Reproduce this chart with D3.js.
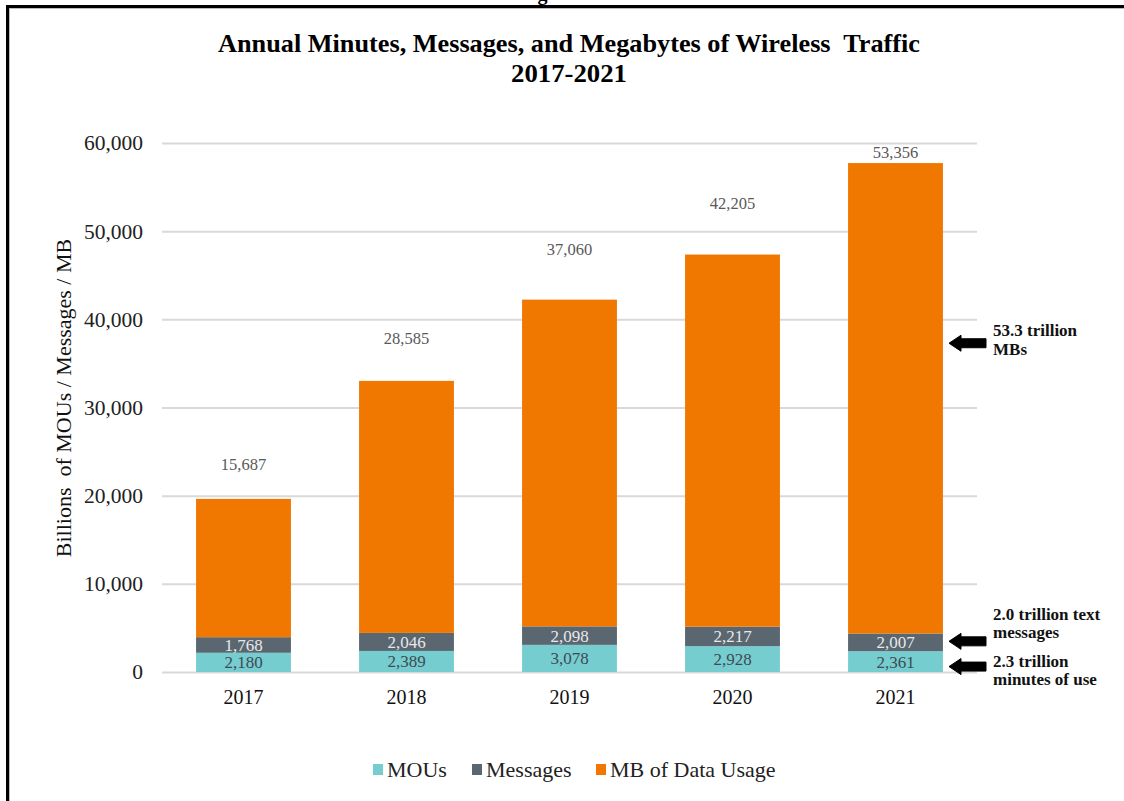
<!DOCTYPE html>
<html>
<head>
<meta charset="utf-8">
<script src="https://cdn.jsdelivr.net/npm/d3@7"></script>
<style>
  html, body { margin: 0; padding: 0; background: #fff; }
  svg { display: block; }
  text { font-family: "Liberation Serif", "Times New Roman", serif; white-space: pre; }
</style>
</head>
<body>
<svg id="chart" width="1124" height="801"></svg>
<script>
// Annual wireless traffic, billions of units
const years = ["2017", "2018", "2019", "2020", "2021"];
const mous = [2180, 2389, 3078, 2928, 2361];
const messages = [1768, 2046, 2098, 2217, 2007];
const dataMB = [15687, 28585, 37060, 42205, 53356];
const yTicks = [0, 10000, 20000, 30000, 40000, 50000, 60000];
const seriesNames = ["MOUs", "Messages", "MB of Data Usage"];
const seriesColors = ["#76CDD0", "#5A6670", "#F07800"];
const callouts = [
  { lines: ["53.3 trillion", "MBs"], series: 2 },
  { lines: ["2.0 trillion text", "messages"], series: 1 },
  { lines: ["2.3 trillion", "minutes of use"], series: 0 }
];

// Layout
const W = 1124, H = 801;
const plot = { left: 162, right: 977, top: 143, bottom: 672 };
// pixel gap between each bar's top and its data-usage label
const topLabelGap = [35, 43, 50, 51, 11];

const svg = d3.select("#chart");

// Cropped caption above the frame
svg.append("text")
  .attr("x", 548).attr("y", 0)
  .attr("text-anchor", "middle")
  .attr("font-size", 20)
  .attr("font-weight", "bold")
  .text("Figure");

// Frame
svg.append("line").attr("x1", 7).attr("x2", W).attr("y1", 6.5).attr("y2", 6.5)
  .attr("stroke", "#000").attr("stroke-width", 3);
svg.append("line").attr("x1", 7.5).attr("x2", 7.5).attr("y1", 5).attr("y2", H)
  .attr("stroke", "#000").attr("stroke-width", 3);
svg.append("line").attr("x1", 9).attr("x2", W).attr("y1", 8.5).attr("y2", 8.5)
  .attr("stroke", "#bbb").attr("stroke-width", 1);
svg.append("line").attr("x1", 9.5).attr("x2", 9.5).attr("y1", 9).attr("y2", H)
  .attr("stroke", "#bbb").attr("stroke-width", 1);

// Title
const title = svg.append("text")
  .attr("text-anchor", "middle")
  .attr("font-weight", "bold")
  .attr("font-size", 26)
  .attr("fill", "#000");
title.append("tspan").attr("x", 569).attr("y", 52)
  .attr("textLength", 702).attr("lengthAdjust", "spacingAndGlyphs")
  .text("Annual Minutes, Messages, and Megabytes of Wireless  Traffic");
title.append("tspan").attr("x", 569).attr("y", 82)
  .attr("textLength", 116).attr("lengthAdjust", "spacingAndGlyphs")
  .text("2017-2021");

// Scales
const x = d3.scaleBand().domain(years).range([plot.left, plot.right])
  .paddingInner(0.418).paddingOuter(0.209);
const y = d3.scaleLinear().domain([0, 60000]).range([plot.bottom, plot.top]);

// Gridlines and y axis labels
const yAxis = d3.axisLeft(y).tickValues(yTicks)
  .tickSize(-(plot.right - plot.left)).tickPadding(19)
  .tickFormat(d3.format(","));
const gY = svg.append("g").attr("transform", `translate(${plot.left},0)`).call(yAxis);
gY.select(".domain").remove();
gY.selectAll(".tick line").attr("stroke", "#d9d9d9").attr("stroke-width", 2);
gY.selectAll(".tick text")
  .attr("font-family", "Liberation Serif, serif")
  .attr("font-size", 21.5).attr("fill", "#222");

// X axis labels
const xAxis = d3.axisBottom(x).tickSize(0).tickPadding(18);
const gX = svg.append("g").attr("transform", `translate(0,${plot.bottom})`).call(xAxis);
gX.select(".domain").remove();
gX.selectAll(".tick text")
  .attr("font-family", "Liberation Serif, serif")
  .attr("font-size", 20).attr("fill", "#111");

// Y axis title
svg.append("text")
  .attr("transform", "translate(71,398) rotate(-90)")
  .attr("text-anchor", "middle")
  .attr("font-size", 22).attr("fill", "#111")
  .text("Billions  of MOUs / Messages / MB");

// Stacked bars
const rows = years.map((yr, i) => ({ year: yr, MOUs: mous[i], Messages: messages[i], "MB of Data Usage": dataMB[i] }));
const stack = d3.stack().keys(seriesNames)(rows);
const color = d3.scaleOrdinal().domain(seriesNames).range(seriesColors);

const layers = svg.append("g").selectAll("g").data(stack).join("g")
  .attr("fill", d => color(d.key));
layers.selectAll("rect").data(d => d).join("rect")
  .attr("x", d => x(d.data.year))
  .attr("width", x.bandwidth())
  .attr("y", d => y(d[1]))
  .attr("height", d => y(d[0]) - y(d[1]));

// Segment labels inside MOUs and Messages
const segLabelColor = ["#3e4b52", "#e6e9ea"];
[0, 1].forEach(k => {
  svg.append("g").selectAll("text").data(stack[k]).join("text")
    .attr("x", d => x(d.data.year) + x.bandwidth() / 2)
    .attr("y", d => (y(d[0]) + y(d[1])) / 2)
    .attr("dy", "0.35em")
    .attr("text-anchor", "middle")
    .attr("font-size", 17)
    .attr("fill", segLabelColor[k])
    .text(d => d3.format(",")(d.data[seriesNames[k]]));
});

// Data usage labels above each bar
svg.append("g").selectAll("text").data(stack[2]).join("text")
  .attr("x", d => x(d.data.year) + x.bandwidth() / 2)
  .attr("y", (d, i) => y(d[1]) - topLabelGap[i])
  .attr("dy", "0.35em")
  .attr("text-anchor", "middle")
  .attr("font-size", 16.5)
  .attr("fill", "#595959")
  .text(d => d3.format(",")(d.data["MB of Data Usage"]));

// Callouts beside the last bar
const last = years.length - 1;
const seg = k => stack[k][last];
const calloutY = [y(seg(2)[1]) + (y(seg(2)[0]) - y(seg(2)[1])) * 0.383,
                  (y(seg(1)[0]) + y(seg(1)[1])) / 2 - 1,
                  (y(seg(0)[0]) + y(seg(0)[1])) / 2 + 5];
const textOffsets = [[-7, 12], [-21, -3], [0, 18]];
callouts.forEach((c, i) => {
  const ay = calloutY[i];
  const ax = plot.right - 28;
  // block arrow pointing left
  svg.append("path")
    .attr("d", `M${ax},${ay} L${ax + 12},${ay - 8} L${ax + 12},${ay - 4.5} L${ax + 37},${ay - 4.5} L${ax + 37},${ay + 4.5} L${ax + 12},${ay + 4.5} L${ax + 12},${ay + 8} Z`)
    .attr("fill", "#000")
    .attr("stroke", "#000").attr("stroke-width", 1).attr("stroke-linejoin", "round");
  const t = svg.append("text").attr("font-size", 17).attr("font-weight", "bold").attr("fill", "#111");
  c.lines.forEach((ln, j) => {
    t.append("tspan").attr("x", 993).attr("y", ay + textOffsets[i][j]).text(ln);
  });
});

// Legend
const legendX = [373, 472, 596];
const lg = svg.append("g").selectAll("g").data(seriesNames).join("g")
  .attr("transform", (d, i) => `translate(${legendX[i]},764)`);
lg.append("rect").attr("width", 10).attr("height", 11).attr("fill", d => color(d));
lg.append("text").attr("x", 14).attr("y", 13)
  .attr("font-size", 22).attr("fill", "#222").text(d => d);
</script>
</body>
</html>
